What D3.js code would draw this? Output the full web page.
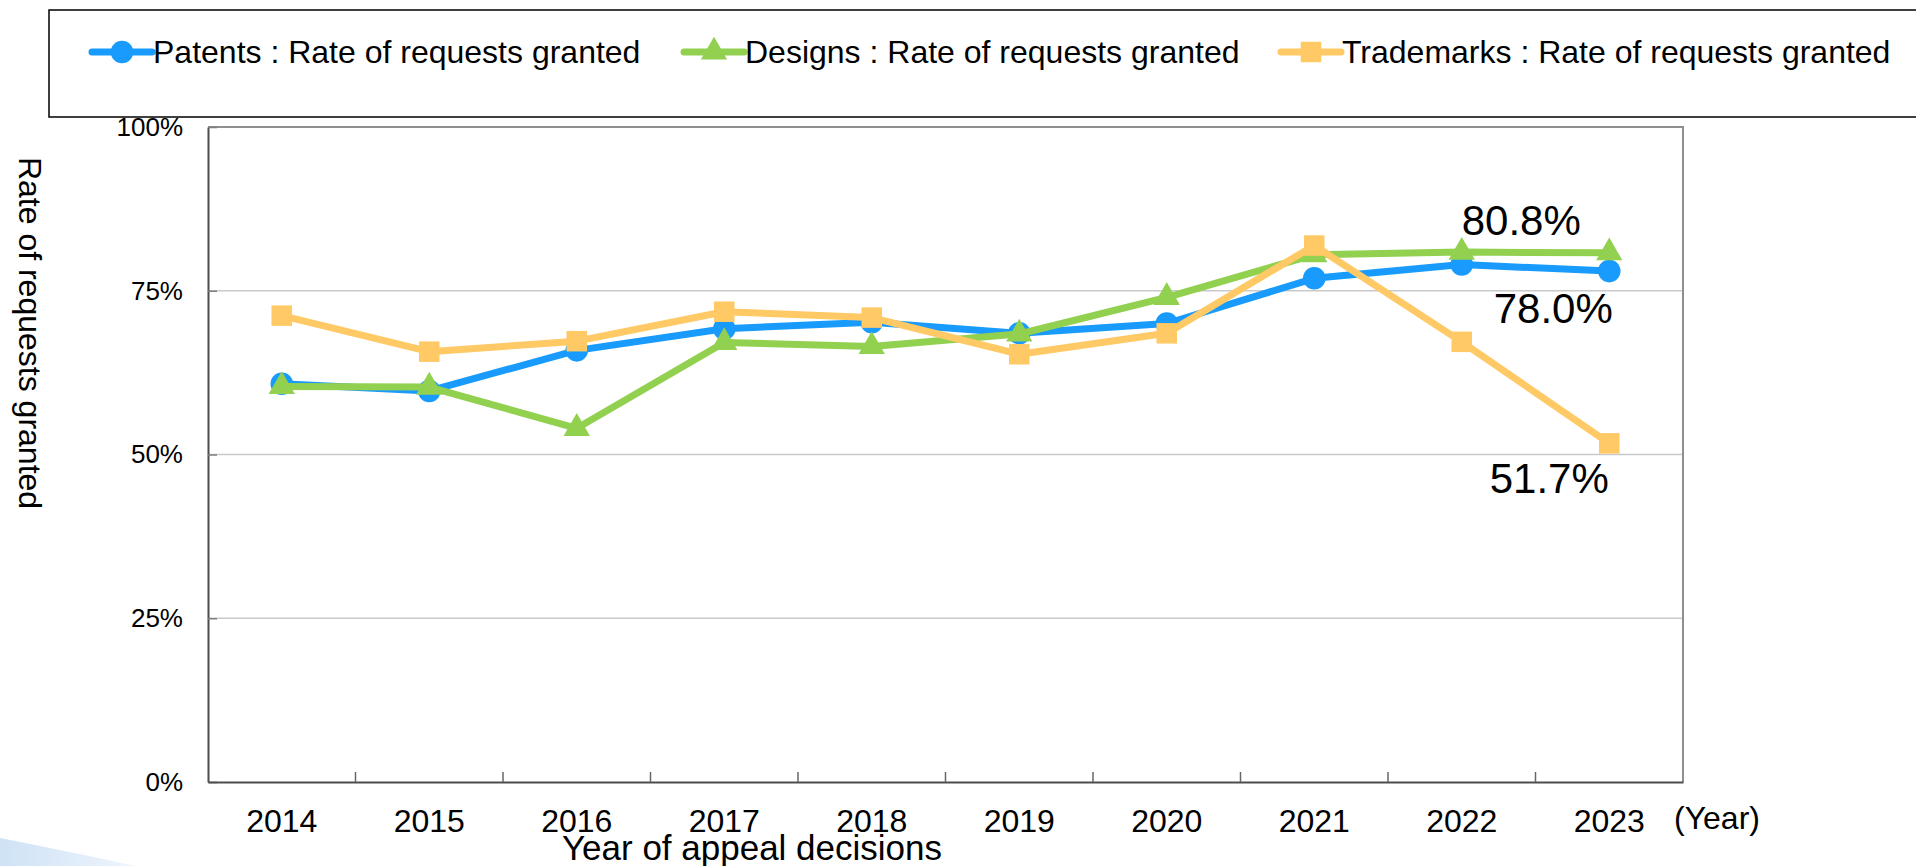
<!DOCTYPE html>
<html>
<head>
<meta charset="utf-8">
<script src="https://cdn.jsdelivr.net/npm/d3@7"></script>
<style>
  body { margin: 0; background: #fff; }
  svg { display: block; font-family: "Liberation Sans", Arial, sans-serif; }
</style>
</head>
<body>
<div class="canvas"></div>
<script>
// values
const years = ['2014', '2015', '2016', '2017', '2018', '2019', '2020', '2021', '2022', '2023']
const patents = [60.8, 59.7, 65.9, 69.2, 70.2, 68.5, 70.0, 76.9, 79.0, 78.0]
const designs = [60.4, 60.3, 54.0, 67.1, 66.5, 68.4, 74.0, 80.5, 80.9, 80.8]
const trademarks = [71.2, 65.7, 67.3, 71.8, 70.9, 65.3, 68.5, 81.9, 67.2, 51.7]
const yTicks = [0, 25, 50, 75, 100]
const seriesNames = [
  'Patents : Rate of requests granted',
  'Designs : Rate of requests granted',
  'Trademarks : Rate of requests granted'
]

const series = [
  { name: seriesNames[0], values: patents, color: '#189bfc', shape: 'circle' },
  { name: seriesNames[1], values: designs, color: '#92d050', shape: 'triangle' },
  { name: seriesNames[2], values: trademarks, color: '#ffc965', shape: 'square' }
]

const W = 1916, H = 866
const svg = d3.select('.canvas')
  .append('svg')
  .attr('width', W)
  .attr('height', H)

// pale swoosh in the bottom-left corner
const grad = svg.append('defs').append('linearGradient')
  .attr('id', 'swoosh')
  .attr('x1', 0).attr('y1', 0).attr('x2', 1).attr('y2', 0)
grad.append('stop').attr('offset', '0%').attr('stop-color', '#cfe2f6')
grad.append('stop').attr('offset', '100%').attr('stop-color', '#eef5fc')
svg.append('path')
  .attr('d', 'M0,838 C40,846 90,856 135,866 L0,866 Z')
  .attr('fill', 'url(#swoosh)')

const margin = { top: 127, left: 208, right: 233, bottom: 84 }
const graphWidth = W - margin.left - margin.right
const graphHeight = H - margin.top - margin.bottom

const graph = svg.append('g')
  .attr('transform', `translate(${margin.left}, ${margin.top})`)

const x = d3.scaleBand()
  .domain(years)
  .range([0, graphWidth])

const y = d3.scaleLinear()
  .domain([0, 100])
  .range([graphHeight, 0])

// gridlines
graph.selectAll('.grid')
  .data(yTicks.filter(d => d > 0 && d < 100))
  .enter()
  .append('line')
  .attr('x1', 0)
  .attr('x2', graphWidth)
  .attr('y1', d => y(d))
  .attr('y2', d => y(d))
  .attr('stroke', '#c9c9c9')
  .attr('stroke-width', 1.5)

// top and right frame
graph.append('path')
  .attr('d', `M0,0 H${graphWidth} V${graphHeight}`)
  .attr('fill', 'none')
  .attr('stroke', '#8f8f8f')
  .attr('stroke-width', 2)

// y axis
const yAxis = d3.axisLeft(y)
  .tickValues(yTicks)
  .tickFormat(d => d + '%')
  .tickSizeInner(-9)
  .tickSizeOuter(0)
  .tickPadding(25)
const yAxisGroup = graph.append('g').call(yAxis)
yAxisGroup.select('.domain').attr('stroke', '#4d4d4d').attr('stroke-width', 2)
yAxisGroup.selectAll('.tick line').attr('stroke', '#7f7f7f').attr('stroke-width', 1.5)
yAxisGroup.selectAll('text')
  .attr('font-size', 26)
  .attr('font-family', '"Liberation Sans", Arial, sans-serif')
  .attr('fill', '#000')

// x axis: labels at band centres, tick marks on band edges
const xAxis = d3.axisBottom(x)
  .tickSize(0)
  .tickPadding(27)
const xAxisGroup = graph.append('g')
  .attr('transform', `translate(0, ${graphHeight})`)
  .call(xAxis)
xAxisGroup.select('.domain').attr('stroke', '#4d4d4d').attr('stroke-width', 2)
xAxisGroup.selectAll('text')
  .attr('font-size', 32)
  .attr('font-family', '"Liberation Sans", Arial, sans-serif')
  .attr('fill', '#000')

xAxisGroup.selectAll('.edge')
  .data(years.slice(1))
  .enter()
  .append('line')
  .attr('x1', d => x(d))
  .attr('x2', d => x(d))
  .attr('y1', 0)
  .attr('y2', -10)
  .attr('stroke', '#666')
  .attr('stroke-width', 1.5)

// lines and markers
const line = d3.line()
  .x((d, i) => x(years[i]) + x.bandwidth() / 2)
  .y(d => y(d))

const symbolOf = {
  circle: d3.symbol().type(d3.symbolCircle).size(400),
  triangle: d3.symbol().type(d3.symbolTriangle).size(300),
  square: d3.symbol().type(d3.symbolSquare).size(420)
}

series.forEach(s => {
  graph.append('path')
    .datum(s.values)
    .attr('d', line)
    .attr('fill', 'none')
    .attr('stroke', s.color)
    .attr('stroke-width', 7)
    .attr('stroke-linejoin', 'round')

  graph.selectAll('.m-' + s.shape)
    .data(s.values)
    .enter()
    .append('path')
    .attr('d', symbolOf[s.shape])
    .attr('transform', (d, i) => `translate(${x(years[i]) + x.bandwidth() / 2}, ${y(d)})`)
    .attr('fill', s.color)
})

// labels for the last year
const last = years.length - 1
const lastX = x(years[last]) + x.bandwidth() / 2
const labels = [
  { v: designs[last], dx: -88, dy: -18 },
  { v: patents[last], dx: -56, dy: 52 },
  { v: trademarks[last], dx: -60, dy: 50 }
]
graph.selectAll('.lbl')
  .data(labels)
  .enter()
  .append('text')
  .attr('x', d => lastX + d.dx)
  .attr('y', d => y(d.v) + d.dy)
  .attr('text-anchor', 'middle')
  .attr('font-size', 42)
  .text(d => d.v.toFixed(1) + '%')

// axis titles
svg.append('text')
  .attr('transform', 'translate(19, 333) rotate(90)')
  .attr('text-anchor', 'middle')
  .attr('font-size', 32)
  .text('Rate of requests granted')

svg.append('text')
  .attr('x', 752)
  .attr('y', 860)
  .attr('text-anchor', 'middle')
  .attr('font-size', 35)
  .text('Year of appeal decisions')

svg.append('text')
  .attr('x', 1674)
  .attr('y', 829)
  .attr('font-size', 32)
  .text('(Year)')

// legend
svg.append('rect')
  .attr('x', 49)
  .attr('y', 10)
  .attr('width', W)
  .attr('height', 107)
  .attr('fill', 'none')
  .attr('stroke', '#000')
  .attr('stroke-width', 1.5)

const legendX = [92, 684, 1281]
const legend = svg.selectAll('.legend')
  .data(series)
  .enter()
  .append('g')
  .attr('transform', (d, i) => `translate(${legendX[i]}, 52)`)

legend.append('line')
  .attr('x1', 0)
  .attr('x2', 60)
  .attr('stroke', d => d.color)
  .attr('stroke-width', 7)
  .attr('stroke-linecap', 'round')

legend.append('path')
  .attr('d', d => symbolOf[d.shape]())
  .attr('transform', 'translate(30, 0)')
  .attr('fill', d => d.color)

legend.append('text')
  .attr('x', 61)
  .attr('dy', '0.35em')
  .attr('font-size', 32)
  .text(d => d.name)
</script>
</body>
</html>
